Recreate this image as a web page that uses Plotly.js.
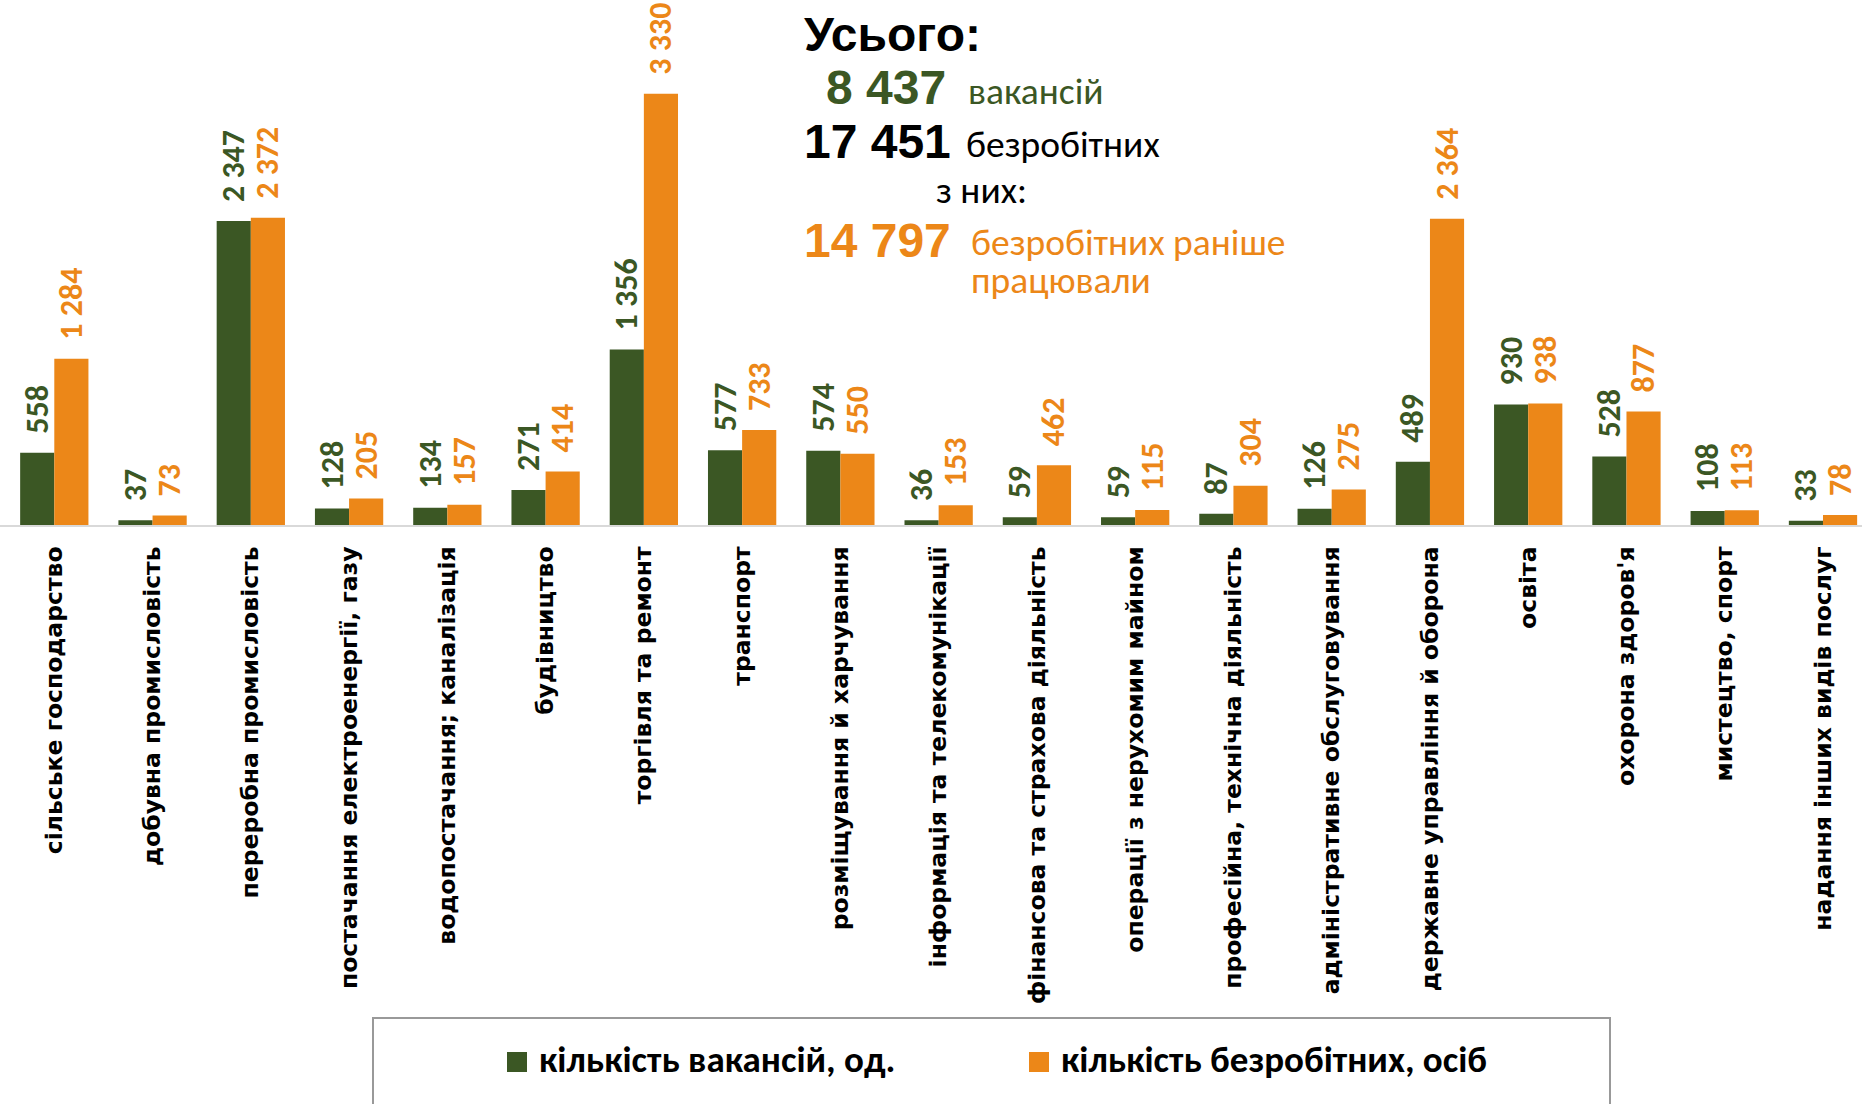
<!DOCTYPE html>
<html><head><meta charset="utf-8">
<script src="https://cdn.plot.ly/plotly-3.0.1.min.js"></script>
<style>html,body{margin:0;padding:0;background:#fff;overflow:hidden}#chart{width:1862px;height:1104px}</style>
</head><body><div id="chart"></div>
<script>
// ---- data ----
const categories = [
  'сільське господарство','добувна промисловість','переробна промисловість',
  'постачання електроенергії, газу','водопостачання; каналізація','будівництво',
  'торгівля та ремонт','транспорт','розміщування й харчування',
  'інформація та телекомунікації','фінансова та страхова діяльність',
  'операції з нерухомим майном','професійна, технічна діяльність',
  'адміністративне обслуговування','державне управління й оборона','освіта',
  'охорона здоров\'я','мистецтво, спорт','надання інших видів послуг'
];
const vacancies  = [558, 37, 2347, 128, 134, 271, 1356, 577, 574, 36, 59, 59, 87, 126, 489, 930, 528, 108, 33];
const unemployed = [1284, 73, 2372, 205, 157, 414, 3330, 733, 550, 153, 462, 115, 304, 275, 2364, 938, 877, 113, 78];
const seriesNames = ['кількість вакансій, од.', 'кількість безробітних, осіб'];
const totalVacancies = 8437;
const totalUnemployed = 17451;
const previouslyEmployed = 14797;
const summaryTitle = 'Усього:';
const summaryWords = ['вакансій', 'безробітних', 'з них:', 'безробітних раніше', 'працювали'];

// ---- style ----
const GREEN = '#3b5724', ORANGE = '#ec8718';
const W = 1862, H = 1104, PH = 525;
const px = v => v / W;
const py = v => (PH - v) / PH;
const fmt = n => String(n).replace(/\B(?=(\d{3})+(?!\d))/g, ' ');

function ann(text, left, baseline, family, size, color, weight, asc) {
  return {text: text, xref: 'paper', yref: 'paper', x: px(left), y: py(baseline - asc * size),
    xanchor: 'left', yanchor: 'middle', showarrow: false, borderpad: 0,
    font: {family: family, size: size, color: color, weight: weight}};
}
function square(left, top, size, color) {
  return {type: 'rect', xref: 'paper', yref: 'paper', x0: px(left), x1: px(left + size),
    y0: py(top + size), y1: py(top), line: {width: 0}, fillcolor: color};
}

const BOLD = 'Liberation Sans, Arial, sans-serif';
const CAL = 'Carlito, Open Sans, sans-serif';

const common = {type: 'bar', x: categories, textposition: 'outside', textangle: -90,
  cliponaxis: false, constraintext: 'none', texttemplate: '\u2002%{y:,}', hoverinfo: 'skip', showlegend: false};

const data = [
  Object.assign({}, common, {name: seriesNames[0], y: vacancies, marker: {color: GREEN},
    textfont: {family: CAL, size: 32, color: GREEN, weight: 700}}),
  Object.assign({}, common, {name: seriesNames[1], y: unemployed, marker: {color: ORANGE},
    textfont: {family: CAL, size: 32, color: ORANGE, weight: 700}})
];

const annotations = [
  ann(summaryTitle, 803, 50.7, BOLD, 48, '#000', 700, 0.3465),
  ann(fmt(totalVacancies), 825, 104, BOLD, 48, GREEN, 700, 0.3465),
  ann(summaryWords[0], 967, 104, CAL, 37.5, GREEN, 400, 0.35),
  ann(fmt(totalUnemployed), 803, 158.3, BOLD, 48, '#000', 700, 0.3465),
  ann(summaryWords[1], 965, 157, CAL, 37.5, '#000', 400, 0.35),
  ann(summaryWords[2], 935, 203, CAL, 37.5, '#000', 400, 0.35),
  ann(fmt(previouslyEmployed), 803, 256.7, BOLD, 48, ORANGE, 700, 0.3465),
  ann(summaryWords[3], 970, 255, CAL, 37.5, ORANGE, 400, 0.35),
  ann(summaryWords[4], 970, 293.3, CAL, 37.5, ORANGE, 400, 0.35),
  // legend entries
  ann(seriesNames[0], 538, 1072, CAL, 37, '#000', 700, 0.35),
  ann(seriesNames[1], 1060, 1072, CAL, 37, '#000', 700, 0.35)
];

const layout = {
  width: W, height: H, margin: {l: 0, r: 0, t: 0, b: H - PH, pad: 0},
  paper_bgcolor: '#fff', plot_bgcolor: '#fff', separators: '. ',
  barmode: 'group', bargap: 0.305, bargroupgap: 0, showlegend: false,
  xaxis: {range: [-0.5526, 18.397], showline: true, linecolor: '#d9d9d9', linewidth: 2,
    ticks: '', tickangle: -90, ticklabelstandoff: 10, automargin: false, showgrid: false, zeroline: false,
    tickfont: {family: 'DejaVu Sans', size: 23.5, color: '#000', weight: 700}},
  yaxis: {range: [0, 4054], visible: false, showgrid: false, zeroline: false},
  shapes: [
    {type: 'rect', xref: 'paper', yref: 'paper', x0: px(373), x1: px(1610), y0: py(1018), y1: py(1115),
      line: {color: '#999', width: 2}, fillcolor: 'rgba(0,0,0,0)'},
    square(507, 1052, 20, GREEN),
    square(1029, 1052, 20, ORANGE)
  ],
  annotations: annotations
};

Plotly.newPlot('chart', data, layout, {staticPlot: true});
</script>
</body></html>
